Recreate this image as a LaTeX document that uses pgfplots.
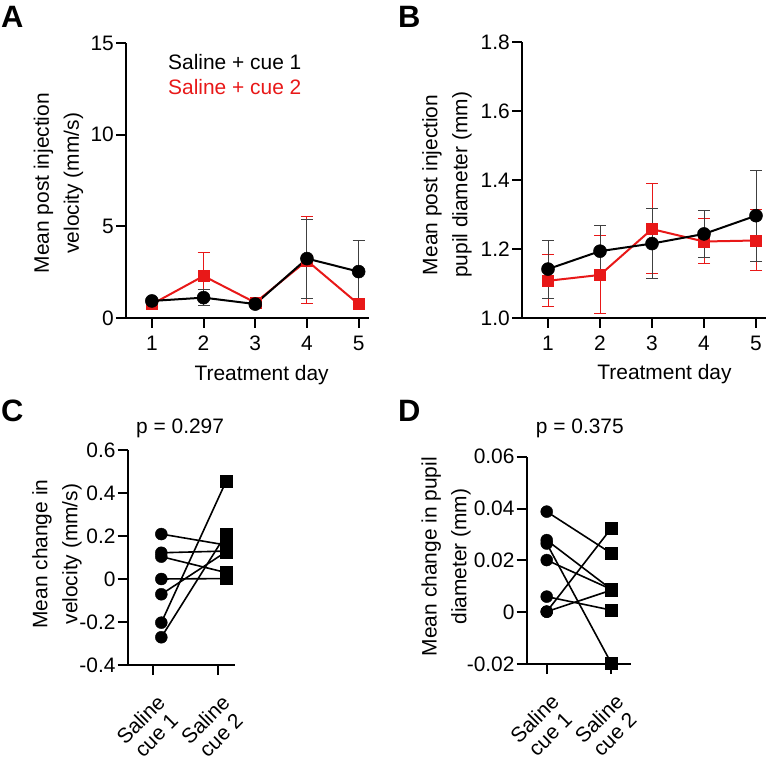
\documentclass[border=0pt]{standalone}
\usepackage{fontspec}
\setmainfont{Liberation Sans}
\usepackage{pgfplots}
\usepackage{pgfplotstable}
\pgfplotsset{compat=1.18}
\definecolor{cred}{RGB}{232,24,24}
\newcommand\fs{\fontsize{21}{30}\selectfont}

\pgfplotstableread{
x y ep em
1 0.93 0.15 0.15
2 1.11 0.42 0.44
3 0.76 0.10 0.10
4 3.24 2.11 2.17
5 2.53 1.72 1.72
}\Ablack
\pgfplotstableread{
x y ep em
1 0.75 0.12 0.12
2 2.29 1.29 1.29
3 0.84 0.10 0.10
4 3.13 2.40 2.33
5 0.75 0.12 0.12
}\Ared
\pgfplotstableread{
x y ep em
1 1.142 0.083 0.084
2 1.194 0.075 0.075
3 1.216 0.102 0.100
4 1.244 0.068 0.068
5 1.297 0.131 0.133
}\Bblack
\pgfplotstableread{
x y ep em
1 1.108 0.076 0.074
2 1.125 0.115 0.113
3 1.258 0.132 0.129
4 1.222 0.067 0.064
5 1.225 0.089 0.087
}\Bred

\pgfplotsset{
  panel/.style={
    scale only axis,
    anchor=south west,
    axis x line=bottom, axis y line=left,
    axis line style={line width=2bp,-},
    every tick/.style={line width=2bp,black},
    tick align=outside,
    major tick length=10bp,
    tick label style={font=\fs},
    yticklabel style={inner sep=2bp},
    xticklabel style={inner sep=2bp},
    label style={font=\fs, align=center},
    scaled y ticks=false,
    clip=false,
    /pgf/number format/assume math mode=true,
  },
  redser/.style={cred, line width=2bp, mark=square*, mark size=5.5bp, mark options={line width=0.5bp},
    error bars/.cd, y dir=both, y explicit,
    error bar style={line width=1bp, cred},
    error mark options={rotate=90, line width=1bp, mark size=6bp, cred}},
  blackser/.style={black, line width=2bp, mark=*, mark size=6.5bp, mark options={line width=0.5bp},
    error bars/.cd, y dir=both, y explicit,
    error bar style={line width=1bp, black!75},
    error mark options={rotate=90, line width=1bp, mark size=6bp, black!75}},
  catlabels/.style={
    xticklabel style={align=center, rotate=45, anchor=north east, xshift=-9bp, yshift=-13bp, font=\fontsize{21}{22}\selectfont}},
}

\begin{document}
\begin{tikzpicture}
\useasboundingbox (0,0) rectangle (767bp,762bp);

% ---------- A ----------
\begin{axis}[panel,
  at={(126bp,444bp)}, width=243bp, height=275bp,
  xmin=0.5, xmax=5.2, ymin=0, ymax=15,
  xtick={1,2,3,4,5}, ytick={0,5,10,15},
  xticklabel style={yshift=-6bp},
  xlabel={Treatment day},
  xlabel style={at={(axis description cs:0.558,-0.2255)}, anchor=base},
  ylabel={Mean post injection\\velocity (mm/s)},
  ylabel style={at={(axis description cs:-0.278,0.49)}, anchor=center},
]
\addplot[redser] table[x=x, y=y, y error plus=ep, y error minus=em] {\Ared};
\addplot[blackser] table[x=x, y=y, y error plus=ep, y error minus=em] {\Ablack};
\end{axis}

% ---------- B ----------
\begin{axis}[panel,
  at={(522bp,444bp)}, width=244.4bp, height=275.6bp,
  xmin=0.5, xmax=5.2, ymin=1.0, ymax=1.8,
  xtick={1,2,3,4,5}, ytick={1.0,1.2,1.4,1.6,1.8},
  xticklabel style={yshift=-6bp},
  yticklabel style={/pgf/number format/.cd, fixed, fixed zerofill, precision=1},
  xlabel={Treatment day},
  xlabel style={at={(axis description cs:0.583,-0.224)}, anchor=base},
  ylabel={Mean post injection\\pupil diameter (mm)},
  ylabel style={at={(axis description cs:-0.307,0.483)}, anchor=center},
]
\addplot[redser] table[x=x, y=y, y error plus=ep, y error minus=em] {\Bred};
\addplot[blackser] table[x=x, y=y, y error plus=ep, y error minus=em] {\Bblack};
\end{axis}

% ---------- C ----------
\begin{axis}[panel, catlabels,
  at={(127.7bp,97bp)}, width=107.3bp, height=215bp,
  xmin=-0.39, xmax=1.27, ymin=-0.4, ymax=0.6,
  xtick={0,1}, xticklabels={{Saline\\cue 1},{Saline\\cue 2}},
  ytick={-0.4,-0.2,0,0.2,0.4,0.6},
  yticklabels={-0.4,-0.2,0,0.2,0.4,0.6},
  ylabel={Mean change in\\velocity (mm/s)},
  ylabel style={at={(axis description cs:-0.659,0.516)}, anchor=center},
]
\addplot[black, line width=1.6bp] coordinates {(0.13,0.209) (1.13,0.158)};
\addplot[black, line width=1.6bp] coordinates {(0.13,0.122) (1.13,0.130)};
\addplot[black, line width=1.6bp] coordinates {(0.13,0.104) (1.13,0.030)};
\addplot[black, line width=1.6bp] coordinates {(0.13,0.000) (1.13,0.002)};
\addplot[black, line width=1.6bp] coordinates {(0.13,-0.071) (1.13,0.126)};
\addplot[black, line width=1.6bp] coordinates {(0.13,-0.203) (1.13,0.453)};
\addplot[black, line width=1.6bp] coordinates {(0.13,-0.271) (1.13,0.208)};
\addplot[only marks, black, mark=*, mark size=6bp] coordinates {
  (0.13,0.209) (0.13,0.122) (0.13,0.104) (0.13,0.000) (0.13,-0.071) (0.13,-0.203) (0.13,-0.271)};
\addplot[only marks, black, mark=square*, mark size=6bp] coordinates {
  (1.13,0.158) (1.13,0.130) (1.13,0.030) (1.13,0.002) (1.13,0.126) (1.13,0.453) (1.13,0.208)};
\end{axis}

% ---------- D ----------
\begin{axis}[panel, catlabels,
  at={(526.7bp,98bp)}, width=104.6bp, height=207.3bp,
  xmin=-0.31, xmax=1.31, ymin=-0.02, ymax=0.06,
  xtick={0,1}, xticklabels={{Saline\\cue 1},{Saline\\cue 2}},
  ytick={-0.02,0,0.02,0.04,0.06},
  yticklabels={-0.02,0,0.02,0.04,0.06},
  ylabel={Mean change in pupil\\diameter (mm)},
  ylabel style={at={(axis description cs:-0.771,0.518)}, anchor=center},
]
\addplot[black, line width=1.6bp] coordinates {(0,0.0388) (1,0.0227)};
\addplot[black, line width=1.6bp] coordinates {(0,0.0278) (1,0.0088)};
\addplot[black, line width=1.6bp] coordinates {(0,0.0265) (1,-0.0197)};
\addplot[black, line width=1.6bp] coordinates {(0,0.0201) (1,0.0088)};
\addplot[black, line width=1.6bp] coordinates {(0,0.0060) (1,0.0008)};
\addplot[black, line width=1.6bp] coordinates {(0,0.0002) (1,0.0324)};
\addplot[black, line width=1.6bp] coordinates {(0,0.0002) (1,0.0085)};
\addplot[only marks, black, mark=*, mark size=6bp] coordinates {
  (0,0.0388) (0,0.0278) (0,0.0265) (0,0.0201) (0,0.0060) (0,0.0002) (0,0.0002)};
\addplot[only marks, black, mark=square*, mark size=6bp] coordinates {
  (1,0.0227) (1,0.0088) (1,-0.0197) (1,0.0088) (1,0.0008) (1,0.0324) (1,0.0085)};
\end{axis}

% panel letters, legend texts, p values
\node[anchor=base west, inner sep=0pt, font=\fontsize{31}{31}\selectfont\bfseries] at (1bp,734.5bp) {A};
\node[anchor=base west, inner sep=0pt, font=\fontsize{31}{31}\selectfont\bfseries] at (398bp,734.5bp) {B};
\node[anchor=base west, inner sep=0pt, font=\fontsize{31}{31}\selectfont\bfseries] at (1bp,340bp) {C};
\node[anchor=base west, inner sep=0pt, font=\fontsize{31}{31}\selectfont\bfseries] at (398bp,340bp) {D};
\node[anchor=base west, inner sep=0pt, font=\fs, black] at (168bp,692bp) {Saline + cue 1};
\node[anchor=base west, inner sep=0pt, font=\fs, cred] at (168bp,667bp) {Saline + cue 2};
\node[anchor=base west, inner sep=0pt, font=\fs] at (136bp,328.7bp) {p = 0.297};
\node[anchor=base west, inner sep=0pt, font=\fs] at (535.7bp,328.7bp) {p = 0.375};
\end{tikzpicture}
\end{document}
